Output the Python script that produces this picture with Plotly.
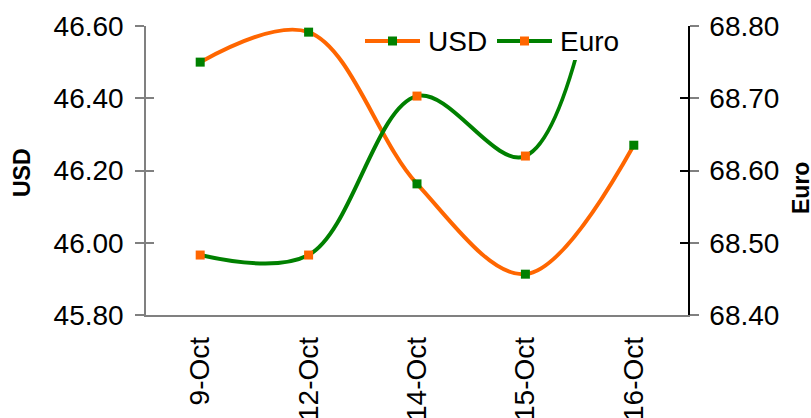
import plotly.graph_objects as go

# Exchange rates (INR per unit) on selected October dates
dates = ["9-Oct", "12-Oct", "14-Oct", "15-Oct", "16-Oct"]
usd = [46.50, 46.583, 46.163, 45.913, 46.27]
euro = [68.483, 68.483, 68.703, 68.62, 69.2]

ORANGE = "#FF6600"
GREEN = "#008000"
FONT = "Liberation Sans, Arial, sans-serif"

ML, MR, MT, MB = 146, 123, 26, 103
W, H = 811, 418
plot_w = W - ML - MR
plot_h = H - MT - MB


def to_paper(px, py):
    """Pixel position on the page -> paper coordinates of the plot area."""
    return (px - ML) / plot_w, 1 - (py - MT) / plot_h


x_idx = list(range(len(dates)))

series = [
    ("USD", usd, "y", ORANGE, GREEN),
    ("Euro", euro, "y2", GREEN, ORANGE),
]

fig = go.Figure()
for name, vals, yax, line_c, mark_c in series:
    fig.add_trace(go.Scatter(
        x=x_idx, y=vals, name=name, mode="lines+markers",
        line=dict(color=line_c, width=4, shape="spline", smoothing=1),
        marker=dict(symbol="square", size=9, color=mark_c),
        yaxis=yax, cliponaxis=True, showlegend=False,
    ))

tick_font = dict(family=FONT, size=28, color="black")

fig.update_layout(
    width=W, height=H,
    margin=dict(l=ML, r=MR, t=MT, b=MB, autoexpand=False),
    paper_bgcolor="white", plot_bgcolor="white",
    font=dict(family=FONT, color="black"),
    showlegend=False,
    xaxis=dict(
        range=[-0.5, len(dates) - 0.5], automargin=False,
        tickmode="array", tickvals=x_idx, ticktext=dates,
        tickangle=-90, tickfont=tick_font,
        ticks="", ticklabelstandoff=9,
        showgrid=False, zeroline=False,
        showline=True, linecolor="#808080", linewidth=1.5,
    ),
    yaxis=dict(
        range=[45.80, 46.60], tickmode="array", automargin=False,
        tickvals=[45.80, 46.00, 46.20, 46.40, 46.60],
        tickformat=".2f", tickfont=tick_font,
        ticks="outside", ticklen=9, tickwidth=1.5, tickcolor="#808080",
        ticklabelstandoff=6,
        showgrid=False, zeroline=False,
        showline=True, linecolor="#808080", linewidth=1.5,
    ),
    yaxis2=dict(
        range=[68.40, 68.80], overlaying="y", side="right", automargin=False,
        tickmode="array", tickvals=[68.40, 68.50, 68.60, 68.70, 68.80],
        tickformat=".2f", tickfont=tick_font,
        ticks="outside", ticklen=9, tickwidth=1.5, tickcolor="#808080",
        ticklabelstandoff=5,
        showgrid=False, zeroline=False,
        showline=True, linecolor="black", linewidth=1.5,
    ),
    # inner halves of the crossing tick marks
    yaxis3=dict(
        range=[45.80, 46.60], overlaying="y", side="left", automargin=False,
        tickmode="array", tickvals=[46.00, 46.20, 46.40, 46.60],
        ticks="inside", ticklen=8, tickwidth=1.5, tickcolor="#808080",
        showticklabels=False, showgrid=False, zeroline=False, showline=False,
    ),
    yaxis4=dict(
        range=[68.40, 68.80], overlaying="y", side="right", automargin=False,
        tickmode="array", tickvals=[68.50, 68.60, 68.70, 68.80],
        ticks="inside", ticklen=8, tickwidth=1.5, tickcolor="black",
        showticklabels=False, showgrid=False, zeroline=False, showline=False,
    ),
)

# axis titles
for text, px, py in [("<b>USD</b>", 22, 173), ("<b>Euro</b>", 801, 188)]:
    ax, ay = to_paper(px, py)
    fig.add_annotation(text=text, x=ax, y=ay, xref="paper", yref="paper",
                       xanchor="center", yanchor="middle",
                       showarrow=False, textangle=-90,
                       font=dict(family=FONT, size=23, color="black"))

# legend box with a white fill, drawn above the plotted lines
x0, y0 = to_paper(358, 24)
x1, y1 = to_paper(622, 60)
fig.add_shape(type="rect", xref="paper", yref="paper", layer="above",
              x0=x0, x1=x1, y0=y1, y1=y0,
              fillcolor="white", line=dict(width=0))

legend_y = 41
for (name, _, _, line_c, mark_c), lx in zip(series, [365, 497]):
    a, ly = to_paper(lx, legend_y)
    b, _ = to_paper(lx + 55, legend_y)
    fig.add_shape(type="line", xref="paper", yref="paper", layer="above",
                  x0=a, x1=b, y0=ly, y1=ly,
                  line=dict(color=line_c, width=4))
    mx0, my0 = to_paper(lx + 23, legend_y - 4.5)
    mx1, my1 = to_paper(lx + 32, legend_y + 4.5)
    fig.add_shape(type="rect", xref="paper", yref="paper", layer="above",
                  x0=mx0, x1=mx1, y0=my1, y1=my0,
                  fillcolor=mark_c, line=dict(width=0))
    tx, _ = to_paper(lx + 61, legend_y)
    fig.add_annotation(text=name, x=tx, y=ly, xref="paper", yref="paper",
                       xanchor="left", yanchor="middle", showarrow=False,
                       font=dict(family=FONT, size=28, color="black"))

# placeholder traces to activate the tick-only overlay axes
fig.add_trace(go.Scatter(x=[None], y=[None], yaxis="y3", showlegend=False, hoverinfo="skip"))
fig.add_trace(go.Scatter(x=[None], y=[None], yaxis="y4", showlegend=False, hoverinfo="skip"))

fig.write_html("out.html")
